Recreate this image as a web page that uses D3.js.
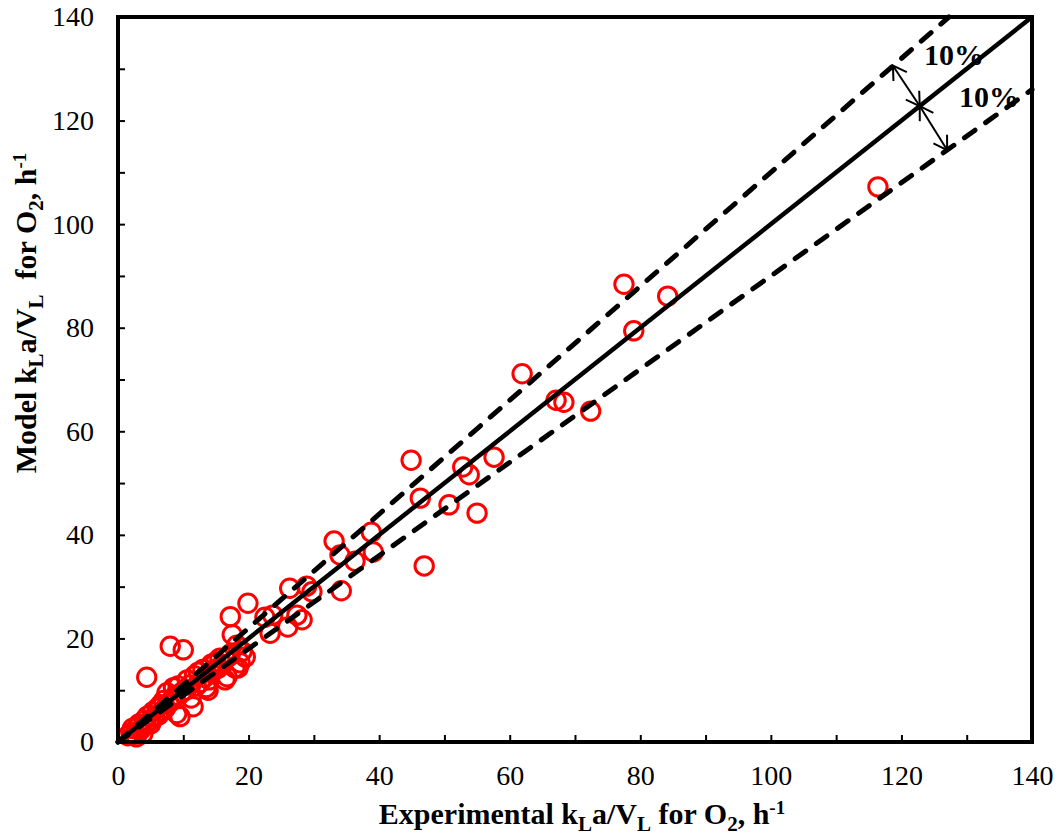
<!DOCTYPE html>
<html>
<head>
<meta charset="utf-8">
<script src="https://cdn.jsdelivr.net/npm/d3@7"></script>
<style>
  body { margin: 0; background: #fff; }
  text { font-family: "Liberation Serif", "Times New Roman", serif; }
</style>
</head>
<body>
<script>
//Experimental kLa/VL (x) and model kLa/VL (y)
var expX = [116.4, 77.5, 84.2, 79.0, 61.9, 67.1, 68.3, 72.4, 44.9, 57.6, 52.8, 53.8,
            46.3, 50.7, 55.0, 46.9, 33.1, 34.0, 36.3, 38.8, 39.1, 34.2, 26.3, 28.9,
            29.7, 27.4, 26.0, 23.3, 22.5, 23.7, 28.2, 19.9, 17.2, 17.5, 8.0, 10.0,
            4.4, 18.2, 18.7, 19.5, 16.7, 17.9, 16.4, 18.4, 9.5, 11.5, 13.8,
            1.5, 2.0, 2.2, 2.5, 3.0, 3.2, 3.5, 4.0, 4.2, 4.5, 4.8, 5.0, 5.3, 5.6,
            6.0, 6.2, 6.5, 6.8, 7.0, 7.3, 7.5, 7.8, 8.3, 8.5, 8.8, 9.0, 9.2,
            9.8, 10.3, 10.6, 11.0, 11.2, 11.7, 12.0, 12.3, 12.6, 13.0, 13.3, 13.5,
            14.0, 14.3, 14.6, 15.0, 15.3, 15.6, 16.0, 17.0, 17.2, 19.0, 2.8, 3.8];
var modelY = [107.2, 88.4, 86.1, 79.4, 71.1, 66.0, 65.6, 63.9, 54.4, 55.0, 53.1, 51.6,
              47.1, 45.8, 44.2, 34.0, 38.8, 36.1, 34.9, 40.5, 36.7, 29.2, 29.7, 30.1,
              29.0, 24.5, 22.2, 21.0, 24.1, 24.5, 23.6, 26.8, 24.2, 20.7, 18.5, 17.8,
              12.5, 18.7, 15.3, 16.4, 12.6, 14.3, 12.0, 14.3, 4.9, 6.8, 10.0,
              1.2, 1.8, 2.6, 1.5, 2.8, 3.5, 2.4, 4.2, 3.3, 5.0, 4.0, 3.5, 5.8, 4.8,
              6.5, 5.2, 7.2, 6.0, 8.0, 6.6, 9.5, 7.5, 8.3, 10.5, 9.0, 5.5, 10.8,
              9.6, 10.0, 12.0, 11.0, 8.5, 12.8, 10.8, 13.5, 11.5, 14.0, 12.5, 10.5,
              12.0, 15.0, 13.8, 15.5, 14.2, 16.2, 15.0, 16.5, 17.0, 17.5, 1.0, 1.6];

//Parity lines: y = x and +/-10 %
var lineFactors = [1.0, 1.1, 0.9];
var tickVals = [0, 10, 20, 30, 40, 50, 60, 70, 80, 90, 100, 110, 120, 130, 140];

//Width and height
var w = 1062, h = 836;
var padL = 118, padT = 17, padR = 1032, padB = 742;

var svg = d3.select("body").append("svg")
            .attr("width", w)
            .attr("height", h)
            .style("background", "#fff");

var x = d3.scaleLinear().domain([0, 140]).range([padL, padR]);
var y = d3.scaleLinear().domain([0, 140]).range([padB, padT]);

//Points (drawn under the lines)
svg.append("g").selectAll("circle")
   .data(expX)
   .enter()
   .append("circle")
   .attr("cx", function(d) { return x(d); })
   .attr("cy", function(d, i) { return y(modelY[i]); })
   .attr("r", 9.2)
   .attr("fill", "none")
   .attr("stroke", "#ff0000")
   .attr("stroke-width", 3);

//Lines
lineFactors.forEach(function(f) {
    var xEnd = Math.min(140, 140 / f);
    svg.append("line")
       .attr("x1", x(0)).attr("y1", y(0))
       .attr("x2", x(xEnd)).attr("y2", y(xEnd * f))
       .attr("stroke", "#000")
       .attr("stroke-width", f === 1 ? 4.5 : 5)
       .attr("stroke-linecap", f === 1 ? "butt" : "round")
       .attr("stroke-dasharray", f === 1 ? null : "13,13");
});

//Axes with inward ticks
var xAxis = d3.axisBottom(x).tickValues(tickVals).tickSize(-7).tickPadding(23)
              .tickFormat(function(d) { return d % 20 === 0 ? d : ""; });
var yAxis = d3.axisLeft(y).tickValues(tickVals).tickSize(-7).tickPadding(24)
              .tickFormat(function(d) { return d % 20 === 0 ? d : ""; });

var gx = svg.append("g").attr("transform", "translate(0," + padB + ")").call(xAxis);
var gy = svg.append("g").attr("transform", "translate(" + padL + ",0)").call(yAxis);
[gx, gy].forEach(function(g) {
    g.select(".domain").remove();
    g.selectAll(".tick line").attr("stroke", "#000").attr("stroke-width", 2);
    g.selectAll(".tick text")
     .attr("fill", "#000")
     .style("font-family", "'Liberation Serif', serif")
     .style("font-size", "28px");
});

//Frame
svg.append("rect")
   .attr("x", padL).attr("y", padT)
   .attr("width", padR - padL).attr("height", padB - padT)
   .attr("fill", "none")
   .attr("stroke", "#000")
   .attr("stroke-width", 4);

//Axis titles
function title(sel) {
    sel.style("font-weight", "bold").style("font-size", "30px").attr("fill", "#000");
    return sel;
}
function writeLabel(t, first, gap) {
    t.append("tspan").text(first + " k");
    t.append("tspan").attr("dy", 7).style("font-size", "21px").text("L");
    t.append("tspan").attr("dy", -7).text("a/V");
    t.append("tspan").attr("dy", 7).style("font-size", "21px").text("L");
    t.append("tspan").attr("dy", -7).text(gap + "for O");
    t.append("tspan").attr("dy", 7).style("font-size", "21px").text("2");
    t.append("tspan").attr("dy", -7).text(", h");
    t.append("tspan").attr("dy", -10).style("font-size", "19px").text("-1");
}
var xt = title(svg.append("text"))
           .attr("x", 582).attr("y", 824)
           .attr("text-anchor", "middle");
writeLabel(xt, "Experimental", " ");

var yt = title(svg.append("text"))
           .attr("transform", "translate(36,313) rotate(-90)")
           .attr("text-anchor", "middle")
           .attr("xml:space", "preserve")
           .style("white-space", "pre");
writeLabel(yt, "Model", "  ");

//10 % annotation arrows
var defs = svg.append("defs");
defs.append("marker")
    .attr("id", "head")
    .attr("viewBox", "-14 -9 16 18")
    .attr("markerWidth", 16).attr("markerHeight", 18)
    .attr("markerUnits", "userSpaceOnUse")
    .attr("orient", "auto-start-reverse")
    .append("path")
    .attr("d", "M-13,-8L0,0L-13,8")
    .attr("fill", "none")
    .attr("stroke", "#000")
    .attr("stroke-width", 2);

var arrows = [[118.7, 130.6, 122.8, 122.8], [122.8, 122.8, 127.0, 114.3]];
arrows.forEach(function(a) {
    svg.append("line")
       .attr("x1", x(a[0])).attr("y1", y(a[1]))
       .attr("x2", x(a[2])).attr("y2", y(a[3]))
       .attr("stroke", "#000")
       .attr("stroke-width", 2)
       .attr("marker-start", "url(#head)")
       .attr("marker-end", "url(#head)");
});

var pctLabels = [[924, 65], [959, 107]];
pctLabels.forEach(function(p) {
    svg.append("text")
       .attr("x", p[0]).attr("y", p[1])
       .style("font-weight", "bold")
       .style("font-size", "30px")
       .text("10%");
});
</script>
</body>
</html>
